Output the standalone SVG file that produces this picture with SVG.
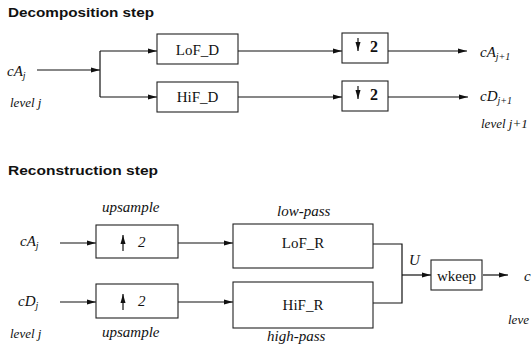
<svg xmlns="http://www.w3.org/2000/svg" width="532" height="347" viewBox="0 0 532 347">
<style>
.title{font-family:"Liberation Sans",Arial,sans-serif;font-weight:bold;font-size:13.5px;fill:#111}
.box{fill:#fff;stroke:#222;stroke-width:1.1}
.bt{font-family:"Liberation Serif","Times New Roman",serif;font-size:15px;fill:#111;text-anchor:middle}
.it{font-family:"Liberation Serif","Times New Roman",serif;font-style:italic;font-size:15px;fill:#111}
.lv{font-family:"Liberation Serif","Times New Roman",serif;font-style:italic;font-size:13px;fill:#111}
.sub{font-size:10px}
.two{font-family:"Liberation Serif","Times New Roman",serif;font-weight:bold;font-size:16px;fill:#111}
.con{fill:none;stroke:#111;stroke-width:1.2}
</style>
<defs>
<marker id="ah" markerUnits="userSpaceOnUse" markerWidth="10" markerHeight="6" refX="9" refY="3" orient="auto">
<path d="M0,0.5 L9,3 L0,5.5 z" fill="#111"/>
</marker>
</defs>

<text class="title" x="8" y="17" textLength="146" lengthAdjust="spacingAndGlyphs">Decomposition step</text>
<text class="title" x="8" y="175" textLength="150" lengthAdjust="spacingAndGlyphs">Reconstruction step</text>

<g id="connectors">
<path class="con" d="M37,70 H100" marker-end="url(#ah)"/>
<path class="con" d="M100,51 V97"/>
<path class="con" d="M100,51 H157" marker-end="url(#ah)"/>
<path class="con" d="M100,97 H157" marker-end="url(#ah)"/>
<path class="con" d="M238,51 H342" marker-end="url(#ah)"/>
<path class="con" d="M238,97 H342" marker-end="url(#ah)"/>
<path class="con" d="M388,51 H467" marker-end="url(#ah)"/>
<path class="con" d="M388,97 H468" marker-end="url(#ah)"/>
<path class="con" d="M60,243 H96" marker-end="url(#ah)"/>
<path class="con" d="M60,302 H96" marker-end="url(#ah)"/>
<path class="con" d="M178,243 H233" marker-end="url(#ah)"/>
<path class="con" d="M178,302 H233" marker-end="url(#ah)"/>
<path class="con" d="M373,244 H402 V303 H373"/>
<path class="con" d="M402,275 H431" marker-end="url(#ah)"/>
<path class="con" d="M483,275 H508" marker-end="url(#ah)"/>
</g>

<g id="in-cAj">
<text class="it" x="7" y="76">cA<tspan class="sub" dy="3">j</tspan></text>
<text class="lv" x="10" y="107">level j</text>
</g>

<g id="LoF_D">
<rect class="box" x="157" y="34" width="81" height="30"/>
<text class="bt" x="197.5" y="55">LoF_D</text>
</g>
<g id="HiF_D">
<rect class="box" x="157" y="82" width="81" height="30"/>
<text class="bt" x="197.5" y="102">HiF_D</text>
</g>
<g id="down1">
<rect class="box" x="342" y="33" width="46" height="30"/>
<path class="con" d="M358,38 V51" marker-end="url(#ah)"/>
<text class="two" x="370" y="52">2</text>
</g>
<g id="down2">
<rect class="box" x="342" y="81" width="46" height="30"/>
<path class="con" d="M358,86 V99" marker-end="url(#ah)"/>
<text class="two" x="370" y="100">2</text>
</g>
<g id="out-cA">
<text class="it" x="480" y="57">cA<tspan class="sub" dy="3">j+1</tspan></text>
</g>
<g id="out-cD">
<text class="it" x="480" y="101">cD<tspan class="sub" dy="3">j+1</tspan></text>
<text class="lv" x="481" y="128">level j+1</text>
</g>

<g id="rec-inputs">
<text class="it" x="20" y="246">cA<tspan class="sub" dy="3">j</tspan></text>
<text class="it" x="18" y="306">cD<tspan class="sub" dy="3">j</tspan></text>
<text class="lv" x="10" y="338">level j</text>
</g>
<g id="up1">
<text class="it" x="102" y="212">upsample</text>
<rect class="box" x="96" y="225" width="82" height="33"/>
<path class="con" d="M123,251 V235" marker-end="url(#ah)"/>
<text class="it" x="138" y="247">2</text>
</g>
<g id="up2">
<rect class="box" x="96" y="284" width="82" height="34"/>
<path class="con" d="M123,310 V294" marker-end="url(#ah)"/>
<text class="it" x="138" y="306">2</text>
<text class="it" x="102" y="337">upsample</text>
</g>
<g id="LoF_R">
<text class="it" x="277" y="216">low-pass</text>
<rect class="box" x="233" y="224" width="140" height="44"/>
<text class="bt" x="303" y="248">LoF_R</text>
</g>
<g id="HiF_R">
<rect class="box" x="233" y="282" width="140" height="46"/>
<text class="bt" x="303" y="310">HiF_R</text>
<text class="it" x="267" y="341">high-pass</text>
</g>
<text class="it" x="409" y="265">U</text>
<g id="wkeep">
<rect class="box" x="431" y="260" width="51" height="30"/>
<text class="bt" x="456.5" y="281">wkeep</text>
</g>
<g id="out-rec">
<text class="it" x="524" y="281">c</text>
<text class="lv" x="508" y="324">leve</text>
</g>
</svg>
